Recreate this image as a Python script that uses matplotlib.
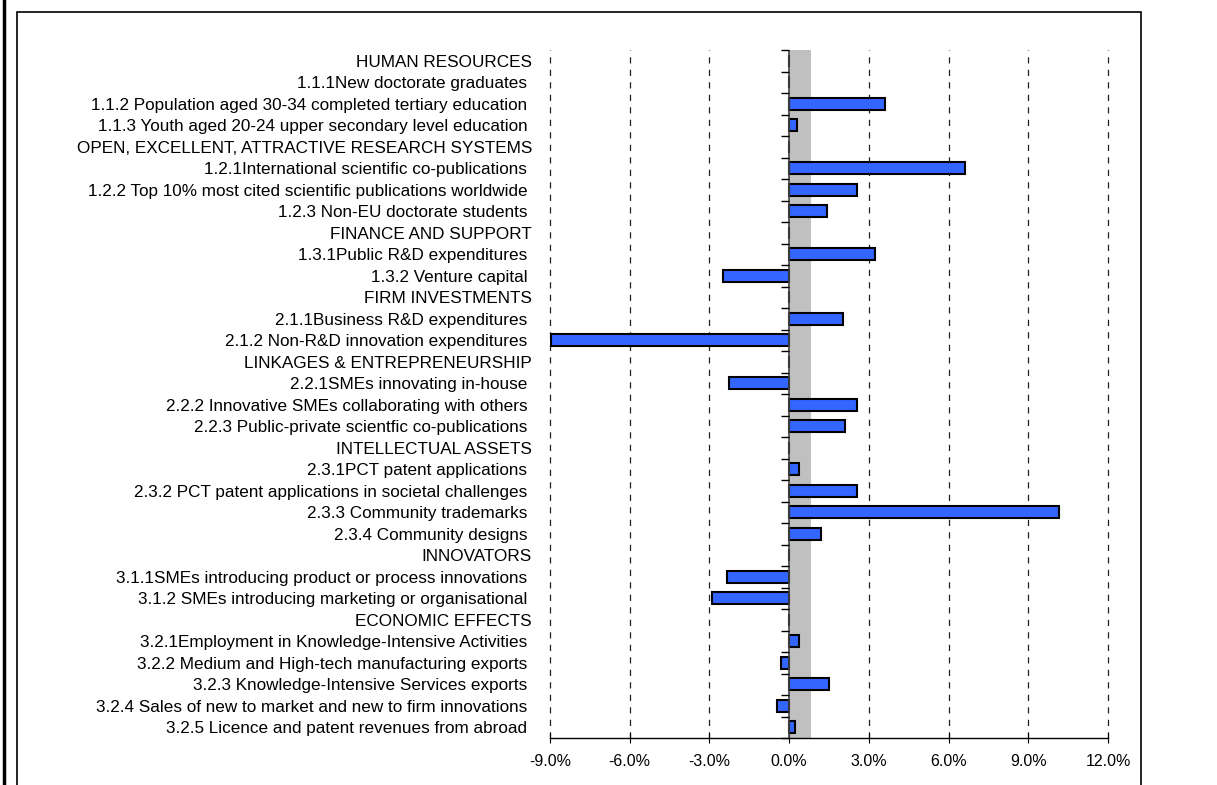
''' Growth rates per indicator, horizontal bar chart'''

import numpy as np
import matplotlib.pyplot as plt
from matplotlib.patches import Rectangle
from matplotlib.lines import Line2D
from matplotlib.ticker import FuncFormatter

# row labels, top to bottom (headers have no value)
labels = ['HUMAN RESOURCES',
          '1.1.1New doctorate graduates ',
          '1.1.2 Population aged 30-34 completed tertiary education ',
          '1.1.3 Youth aged 20-24 upper secondary level education ',
          'OPEN, EXCELLENT, ATTRACTIVE RESEARCH SYSTEMS',
          '1.2.1International scientific co-publications ',
          '1.2.2 Top 10% most cited scientific publications worldwide ',
          '1.2.3 Non-EU doctorate students ',
          'FINANCE AND SUPPORT',
          '1.3.1Public R&D expenditures ',
          '1.3.2 Venture capital ',
          'FIRM INVESTMENTS',
          '2.1.1Business R&D expenditures ',
          '2.1.2 Non-R&D innovation expenditures ',
          'LINKAGES & ENTREPRENEURSHIP',
          '2.2.1SMEs innovating in-house ',
          '2.2.2 Innovative SMEs collaborating with others ',
          '2.2.3 Public-private scientfic co-publications ',
          'INTELLECTUAL ASSETS',
          '2.3.1PCT patent applications ',
          '2.3.2 PCT patent applications in societal challenges ',
          '2.3.3 Community trademarks ',
          '2.3.4 Community designs ',
          'INNOVATORS',
          '3.1.1SMEs introducing product or process innovations ',
          '3.1.2 SMEs introducing marketing or organisational ',
          'ECONOMIC EFFECTS',
          '3.2.1Employment in Knowledge-Intensive Activities ',
          '3.2.2 Medium and High-tech manufacturing exports ',
          '3.2.3 Knowledge-Intensive Services exports ',
          '3.2.4 Sales of new to market and new to firm innovations ',
          '3.2.5 Licence and patent revenues from abroad ']

# growth in percent (nan for header rows)
growth = [np.nan, 0.0, 3.6, 0.3,
          np.nan, 6.6, 2.56, 1.43,
          np.nan, 3.24, -2.48,
          np.nan, 2.03, -8.96,
          np.nan, -2.26, 2.56, 2.1,
          np.nan, 0.38, 2.56, 10.16, 1.2,
          np.nan, -2.33, -2.9,
          np.nan, 0.38, -0.3, 1.5, -0.45, 0.23]

# reference band (EU average growth)
band = [0.0, 0.83]

xticks = [-9, -6, -3, 0, 3, 6, 9, 12]

plt.rcParams['font.family'] = ['Liberation Sans', 'DejaVu Sans']

fig = plt.figure(figsize=(12.17, 7.85), dpi=100)
W, H = 1217, 785
ax = fig.add_axes([550 / W, 1 - 738 / H, 558 / W, 688 / H])

n = len(labels)
ypos = np.arange(n)
vals = np.array(growth)

ax.axvspan(band[0], band[1], color='#c0c0c0', zorder=0, lw=0)
ax.barh(ypos, np.nan_to_num(vals), height=0.58, color='#3366ff',
        edgecolor='black', linewidth=1.5, zorder=3)

ax.set_ylim(n - 0.5, -0.5)
ax.set_xlim(-9, 12)

# dashed vertical grid
for xt in xticks:
    if xt != 0:
        ax.axvline(xt, color='#222222', lw=0.9, ls=(0, (5, 5)), zorder=1,
                   clip_on=False)
ax.axvline(0, color='#444444', lw=1.2, zorder=4)

# small ticks on the zero axis between rows
bounds = np.arange(n + 1) - 0.5
ax.plot(np.zeros(n + 1), bounds, ls='none', marker=0, markersize=6,
        color='black', mew=1, zorder=4, clip_on=False)

ax.set_yticks(ypos)
ax.set_yticklabels(labels, fontsize=12.3)
ax.tick_params(axis='y', length=0, pad=13)

ax.set_xticks(xticks)
ax.xaxis.set_major_formatter(FuncFormatter(lambda v, p: f'{v:.1f}%'))
ax.tick_params(axis='x', direction='inout', length=7, labelsize=11.5, pad=8)

for s in ['top', 'right', 'left']:
    ax.spines[s].set_visible(False)
ax.spines['bottom'].set_linewidth(1.0)

# frames round the chart
fig.patches.append(Rectangle((17 / W, -0.05), (1141 - 17) / W, 1.05 - 12 / H,
                             transform=fig.transFigure, fill=False,
                             edgecolor='black', lw=1.2))
fig.lines.append(Line2D([4 / W, 4 / W], [0, 1], transform=fig.transFigure,
                        color='black', lw=2.5))

fig.savefig('out.png', dpi=100)
